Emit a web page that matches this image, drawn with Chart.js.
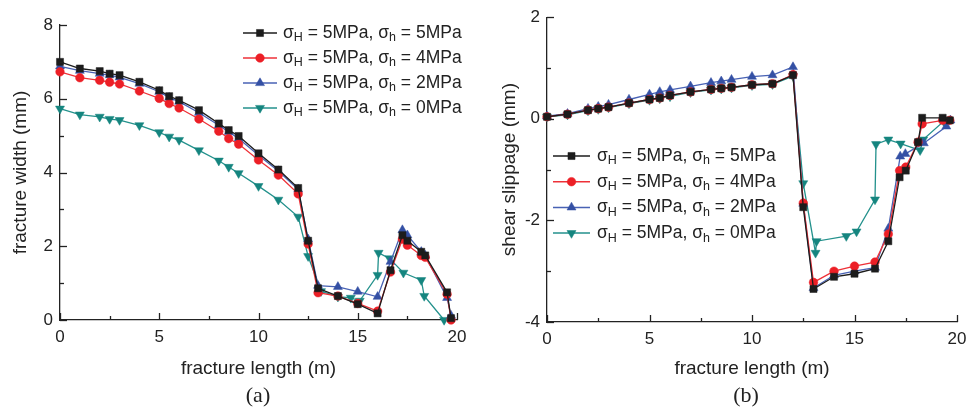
<!DOCTYPE html>
<html>
<head>
<meta charset="utf-8">
<title>fracture width and shear slippage</title>
<script src="https://cdn.jsdelivr.net/npm/chart.js@4.4.1/dist/chart.umd.min.js"></script>
<style>
  html, body { margin: 0; padding: 0; background: #fff; overflow: hidden; width: 967px; height: 415px; }
  .panel { position: absolute; top: 0; }
  #panel-a { left: 0; }
  #panel-b { left: 483px; }
  .caption {
    position: absolute; top: 382px;
    font: 22px "Liberation Serif", "Times New Roman", serif; color: #222;
    transform: translateX(-50%);
  }
</style>
</head>
<body>
<div class="panel" id="panel-a"><canvas id="chart-a" width="480" height="385"></canvas></div>
<div class="panel" id="panel-b"><canvas id="chart-b" width="500" height="385"></canvas></div>
<div class="caption" style="left:258px">(a)</div>
<div class="caption" style="left:746px">(b)</div>
<script>
'use strict';

// legend: sigma_H / sigma_h per series
const SIGMA_H = ['5MPa', '5MPa', '5MPa', '5MPa'];
const SIGMA_h = ['5MPa', '4MPa', '2MPa', '0MPa'];

// (a) fracture width (mm) vs fracture length (m)
const widthX = [0, 1, 2, 2.5, 3, 4, 5, 5.5, 6, 7, 8, 8.5, 9, 10, 11, 12, 12.5, 13, 14, 15, 16, 16.65, 17.25, 17.5, 18.2, 18.4, 19.5, 19.7];
const width5 = [7.00, 6.82, 6.75, 6.68, 6.64, 6.46, 6.23, 6.07, 5.96, 5.69, 5.33, 5.15, 4.99, 4.52, 4.08, 3.58, 2.15, 0.86, 0.65, 0.43, 0.18, 1.35, 2.30, 2.15, 1.85, 1.75, 0.75, 0.05];
const width4 = [6.73, 6.57, 6.50, 6.45, 6.40, 6.21, 6.01, 5.87, 5.75, 5.45, 5.12, 4.92, 4.77, 4.34, 3.93, 3.42, 2.06, 0.74, 0.65, 0.45, 0.24, 1.30, 2.19, 2.03, 1.75, 1.70, 0.70, 0.00];
const width2 = [6.88, 6.76, 6.68, 6.64, 6.58, 6.41, 6.19, 6.03, 5.92, 5.62, 5.28, 5.10, 4.92, 4.47, 4.04, 3.54, 2.19, 0.93, 0.90, 0.77, 0.63, 1.58, 2.44, 2.30, 1.85, 1.75, 0.60, 0.12];
const widthX0 = [0, 1, 2, 2.5, 3, 4, 5, 5.5, 6, 7, 8, 8.5, 9, 10, 11, 12, 12.5, 13.15, 14, 14.65, 15.1, 16.0, 16.05, 16.6, 17.3, 18.2, 18.35, 19.35];
const width0 = [5.73, 5.57, 5.51, 5.45, 5.42, 5.28, 5.09, 4.97, 4.88, 4.60, 4.32, 4.15, 3.98, 3.63, 3.26, 2.80, 1.73, 0.78, 0.63, 0.60, 0.52, 1.22, 1.82, 1.67, 1.28, 1.08, 0.65, 0.00];

// (b) shear slippage (mm) vs fracture length (m)
const slipX = [0, 1, 2, 2.5, 3, 4, 5, 5.5, 6, 7, 8, 8.5, 9, 10, 11, 12, 12.5, 13, 14, 15, 16, 16.65, 17.2, 17.5, 18.1, 18.3, 19.3, 19.65];
const slip5 = [0.04, 0.09, 0.17, 0.20, 0.23, 0.31, 0.38, 0.41, 0.46, 0.53, 0.58, 0.60, 0.62, 0.67, 0.69, 0.86, -1.74, -3.35, -3.11, -3.05, -2.95, -2.41, -1.15, -1.02, -0.46, 0.02, 0.02, -0.03];
const slip4 = [0.04, 0.09, 0.17, 0.20, 0.23, 0.31, 0.38, 0.41, 0.46, 0.53, 0.58, 0.60, 0.62, 0.67, 0.69, 0.87, -1.66, -3.22, -3.00, -2.90, -2.82, -2.27, -1.02, -0.95, -0.46, -0.10, -0.03, -0.03];
const slipX2 = [0, 1, 2, 2.5, 3, 4, 5, 5.5, 6, 7, 8, 8.5, 9, 10, 11, 12, 12.5, 13, 14, 15, 16, 16.65, 17.23, 17.48, 18.38, 19.48, 19.68];
const slip2 = [0.05, 0.10, 0.20, 0.24, 0.28, 0.38, 0.48, 0.53, 0.57, 0.64, 0.71, 0.74, 0.77, 0.83, 0.86, 1.02, -1.67, -3.33, -3.08, -3.00, -2.93, -2.16, -0.74, -0.69, -0.48, -0.15, -0.03];
const slipX0 = [0, 1, 2, 2.5, 3, 4, 5, 5.5, 6, 7, 8, 8.5, 9, 10, 11, 12, 12.5, 13.1, 13.15, 14.6, 15.1, 16.0, 16.05, 16.65, 17.25, 18.2, 18.35, 19.35, 19.6];
const slip0 = [0.04, 0.08, 0.16, 0.19, 0.22, 0.30, 0.37, 0.40, 0.44, 0.52, 0.57, 0.59, 0.61, 0.66, 0.68, 0.84, -1.27, -2.64, -2.41, -2.31, -2.22, -1.59, -0.50, -0.41, -0.49, -0.62, -0.41, -0.05, -0.03];

const FONT = '"Liberation Sans", Arial, Helvetica, sans-serif';
const INK = '#222';

const STYLES = [
  { color: '#1c1c1c', line: '#1c1c1c', pointStyle: 'rect', radius: 5, rotation: 0 },
  { color: '#ec1f26', line: '#ee3138', pointStyle: 'circle', radius: 4.3, rotation: 0 },
  { color: '#3450a4', line: '#4862b4', pointStyle: 'triangle', radius: 5.2, rotation: 0 },
  { color: '#15857f', line: '#23918c', pointStyle: 'triangle', radius: 5.2, rotation: 180 }
];

function zip(xs, ys) {
  return xs.map((x, i) => ({ x: x, y: ys[i] }));
}

function makeDataset(i, xs, ys) {
  const s = STYLES[i];
  return {
    label: 'σH = ' + SIGMA_H[i] + ', σh = ' + SIGMA_h[i],
    data: zip(xs, ys),
    borderColor: s.line,
    borderWidth: 1.3,
    pointStyle: s.pointStyle,
    pointRadius: s.radius,
    pointRotation: s.rotation,
    pointBackgroundColor: s.color,
    pointBorderColor: s.color,
    pointBorderWidth: 0.5,
    tension: 0,
    clip: false
  };
}

// axis ticks drawn inward, major + minor halfway between
const inwardTicks = {
  id: 'inwardTicks',
  afterDraw(chart) {
    const ctx = chart.ctx;
    const area = chart.chartArea;
    ctx.save();
    ctx.strokeStyle = INK;
    ctx.lineWidth = 1.3;
    Object.values(chart.scales).forEach(scale => {
      const vals = scale.ticks.map(t => t.value);
      const marks = [];
      vals.forEach((v, i) => {
        marks.push([v, 7]);
        if (i < vals.length - 1) marks.push([(v + vals[i + 1]) / 2, 4]);
      });
      marks.forEach(([v, len]) => {
        const p = Math.round(scale.getPixelForValue(v)) + 0.5;
        ctx.beginPath();
        if (scale.isHorizontal()) {
          ctx.moveTo(p, area.bottom);
          ctx.lineTo(p, area.bottom - len);
        } else {
          ctx.moveTo(area.left, p);
          ctx.lineTo(area.left + len, p);
        }
        ctx.stroke();
      });
    });
    ctx.restore();
  }
};

// legend with subscripted sigma labels
const sigmaLegend = {
  id: 'sigmaLegend',
  afterDraw(chart, args, opts) {
    const ctx = chart.ctx;
    chart.data.datasets.forEach((ds, i) => {
      const y = opts.top + i * opts.rowHeight;
      const x0 = opts.left;
      ctx.save();
      ctx.strokeStyle = ds.borderColor;
      ctx.lineWidth = 1.5;
      ctx.beginPath();
      ctx.moveTo(x0, y);
      ctx.lineTo(x0 + opts.lineLength, y);
      ctx.stroke();
      ctx.fillStyle = ds.pointBackgroundColor;
      ctx.strokeStyle = ds.pointBorderColor;
      ctx.lineWidth = 0.5;
      Chart.helpers.drawPoint(ctx, {
        pointStyle: ds.pointStyle, rotation: ds.pointRotation, radius: ds.pointRadius, borderWidth: 0.5
      }, x0 + opts.lineLength / 2, y);

      const runs = [
        ['σ', false], ['H', true], [' = ' + SIGMA_H[i] + ', σ', false], ['h', true], [' = ' + SIGMA_h[i], false]
      ];
      let x = x0 + opts.lineLength + opts.gap;
      ctx.fillStyle = INK;
      ctx.textBaseline = 'middle';
      ctx.textAlign = 'left';
      runs.forEach(([t, sub]) => {
        ctx.font = (sub ? opts.subSize : opts.fontSize) + 'px ' + FONT;
        ctx.fillText(t, x, sub ? y + 5 : y);
        x += ctx.measureText(t).width;
      });
      ctx.restore();
    });
  }
};

function axisOptions(min, max, step, title, padTitle, fixed) {
  return {
    type: 'linear',
    min: min,
    max: max,
    ticks: { stepSize: step, color: INK, font: { family: FONT, size: 17 }, padding: fixed.tickPad },
    grid: { drawOnChartArea: false, drawTicks: false },
    border: { display: true, color: INK, width: 1.3 },
    title: {
      display: true, text: title, color: INK,
      font: { family: FONT, size: 19 },
      padding: padTitle
    },
    afterFit(scale) {
      if (scale.isHorizontal()) scale.height = fixed.size;
      else scale.width = fixed.size;
    }
  };
}

function makeChart(id, datasets, xAxis, yAxis, padding, legend) {
  return new Chart(document.getElementById(id), {
    type: 'line',
    data: { datasets: datasets },
    options: {
      responsive: false,
      animation: false,
      layout: { padding: padding },
      plugins: {
        legend: { display: false },
        tooltip: { enabled: false },
        sigmaLegend: legend
      },
      scales: { x: xAxis, y: yAxis }
    },
    plugins: [inwardTicks, sigmaLegend]
  });
}

makeChart('chart-a', [
  makeDataset(0, widthX, width5),
  makeDataset(1, widthX, width4),
  makeDataset(2, widthX, width2),
  makeDataset(3, widthX0, width0)
],
  axisOptions(0, 20, 5, 'fracture length (m)', { top: 0, bottom: 5 }, { size: 65, tickPad: 7 }),
  axisOptions(0, 8, 2, 'fracture width (mm)', { top: 9, bottom: 0 }, { size: 60, tickPad: 7 }),
  { top: 25, right: 23, bottom: 0, left: 0 },
  { left: 243, top: 33, rowHeight: 25, lineLength: 34, gap: 6, fontSize: 17.5, subSize: 12.5 }
);

makeChart('chart-b', [
  makeDataset(0, slipX, slip5),
  makeDataset(1, slipX, slip4),
  makeDataset(2, slipX2, slip2),
  makeDataset(3, slipX0, slip0)
],
  axisOptions(0, 20, 5, 'fracture length (m)', { top: 0, bottom: 5 }, { size: 63, tickPad: 7 }),
  axisOptions(-4, 2, 2, 'shear slippage (mm)', { top: 15, bottom: 0 }, { size: 64, tickPad: 7 }),
  { top: 17, right: 26, bottom: 0, left: 0 },
  { left: 70, top: 156, rowHeight: 25.7, lineLength: 37, gap: 7, fontSize: 17.5, subSize: 12.5 }
);
</script>
</body>
</html>
